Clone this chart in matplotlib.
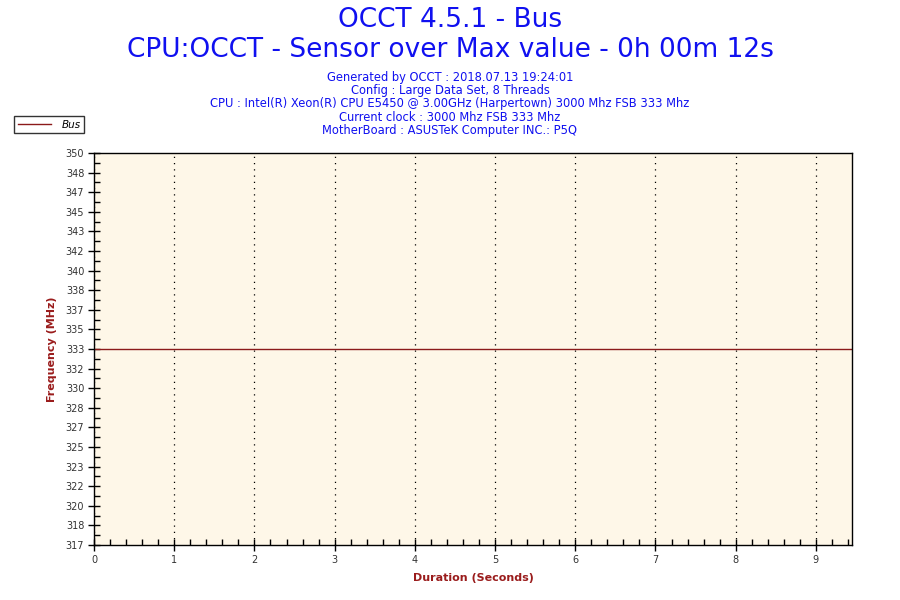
import matplotlib
matplotlib.use("Agg")
import matplotlib.pyplot as plt
import numpy as np

# data
duration = [0, 1, 2, 3, 4, 5, 6, 7, 8, 9, 9.45]
bus = [333.33, 333.33, 333.33, 333.33, 333.33, 333.33, 333.33, 333.33, 333.33, 333.33, 333.33]

title = "OCCT 4.5.1 - Bus"
subtitle = "CPU:OCCT - Sensor over Max value - 0h 00m 12s"
info = [
    "Generated by OCCT : 2018.07.13 19:24:01",
    "Config : Large Data Set, 8 Threads",
    "CPU : Intel(R) Xeon(R) CPU E5450 @ 3.00GHz (Harpertown) 3000 Mhz FSB 333 Mhz",
    "Current clock : 3000 Mhz FSB 333 Mhz",
    "MotherBoard : ASUSTeK Computer INC.: P5Q",
]

blue = "#1010f0"
maroon = "#9a1c1c"
line_col = "#8b1a1a"

plt.rcParams["font.family"] = "DejaVu Sans"

fig = plt.figure(figsize=(9, 6), dpi=100)
ax = fig.add_axes([94 / 900, 1 - 545 / 600, 758 / 900, 392 / 600])
ax.set_facecolor("#fef7e8")

ax.plot(duration, bus, color=line_col, lw=1, label="Bus")

ymin, ymax = 333.33 * 0.95, 333.33 * 1.05
ax.set_xlim(0, 9.45)
ax.set_ylim(ymin, ymax)

yt = np.linspace(ymin, ymax, 21)
ax.set_yticks(yt)
ax.set_yticklabels([str(int(round(v))) for v in yt])
ax.set_yticks((yt[:-1] + yt[1:]) / 2, minor=True)
ax.set_xticks(range(10))
ax.set_xticks(np.arange(0, 9.45, 0.2), minor=True)

ax.tick_params(which="major", direction="inout", length=8, width=1, color="black",
               labelsize=7, labelcolor="#333333", pad=3)
ax.tick_params(which="minor", direction="in", length=4, width=1, color="black")

for s in ax.spines.values():
    s.set_color("black")
    s.set_linewidth(1)

ax.grid(axis="x", which="major", color="black", linestyle=(0, (1, 4)), lw=0.9)

ax.set_xlabel("Duration (Seconds)", color=maroon, fontsize=8, fontweight="bold", labelpad=6)
ax.set_ylabel("Frequency (MHz)", color=maroon, fontsize=8, fontweight="bold", labelpad=6)

fig.text(0.5, 1 - 20 / 600, title, ha="center", va="center", color=blue, fontsize=19)
fig.text(0.5, 1 - 50 / 600, subtitle, ha="center", va="center", color=blue, fontsize=19)
for i, line in enumerate(info):
    fig.text(0.5, 1 - (77 + i * 13.5) / 600, line, ha="center", va="center",
             color=blue, fontsize=8.3)

leg = fig.legend(loc="upper left", bbox_to_anchor=(14 / 900, 1 - 116 / 600),
                 frameon=True, fancybox=False, edgecolor="black",
                 prop={"style": "italic", "size": 7.5}, handlelength=3.2,
                 borderpad=0.35, handletextpad=1.0, borderaxespad=0)
leg.get_frame().set_linewidth(1)

fig.savefig("out.png", dpi=100)
